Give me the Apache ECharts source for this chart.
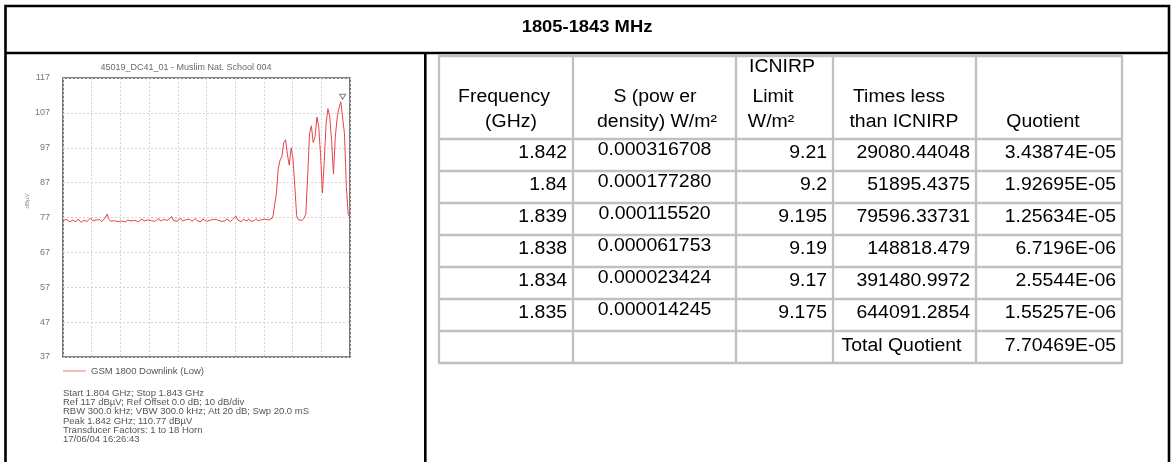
<!DOCTYPE html>
<html>
<head>
<meta charset="utf-8">
<title>1805-1843 MHz</title>
<script src="https://cdn.jsdelivr.net/npm/echarts@6.0.0/dist/echarts.min.js"></script>
<style>
  html, body { margin: 0; padding: 0; background: #fff; }
  #chart { width: 1171px; height: 462px; }
</style>
</head>
<body>
<div id="chart"></div>
<script>
/* ---------- data ---------- */
const PAGE_TITLE = '1805-1843 MHz';
const PLOT_TITLE = '45019_DC41_01 - Muslim Nat. School 004';
const SERIES_NAME = 'GSM 1800 Downlink (Low)';
const Y_UNIT = 'dBµV';

// sweep (GHz) and level axis (dBµV)
const SWEEP_START = 1.804;
const SWEEP_STOP = 1.843;
const SWEEP_STEP = 0.00025;
const X_DIV = 0.0039;
const Y_MIN = 37;
const Y_MAX = 117;
const Y_DIV = 10;

// trace levels, one per sweep point (dBµV)
const LEVELS = [
  76.2, 75.9, 76.4, 76.0, 75.7, 76.3, 76.1, 75.8, 76.5, 76.0,
  75.6, 76.2, 76.6, 75.9, 76.0, 76.8, 76.1, 75.7, 76.3, 76.0,
  76.4, 75.8, 76.2, 76.9, 78.0, 76.5, 75.9, 76.3, 76.1, 76.6,
  75.8, 76.2, 76.0, 76.4, 75.7, 76.3, 76.7, 76.0, 75.9, 76.2,
  76.5, 75.8, 76.1, 76.6, 76.0, 75.7, 76.3, 76.8, 76.1, 76.4,
  75.9, 76.2, 76.7, 76.0, 75.8, 76.4, 76.9, 76.2, 76.5, 77.3,
  76.1, 76.6, 75.9, 76.3, 76.8, 76.0, 75.7, 76.4, 76.1, 76.5,
  75.9, 76.2, 76.7, 76.0, 76.3, 75.8, 76.6, 76.1, 75.9, 76.4,
  76.2, 75.7, 76.5, 76.0, 76.3, 76.8, 75.9, 76.2, 76.0, 76.6,
  76.1, 75.8, 76.4, 76.9, 77.4, 76.3, 76.0, 75.8, 76.5, 76.2,
  76.0, 76.6, 75.9, 76.3, 76.1, 76.7, 76.0, 75.8, 76.4, 76.2,
  76.5, 76.0, 76.3, 76.8, 76.9, 77.2,
  84, 91, 93.5, 94.5, 98.5, 99.3, 95, 92, 97, 94,
  86, 77.5, 76.3, 76.8, 76.2, 76.8, 78, 89, 101, 103.3,
  98.5, 100, 105.8, 103, 95, 84, 93, 104, 108.2, 106,
  99, 89.5, 100, 105.5, 108.3, 110.2, 110.77, 101, 86, 78,
  77
];
const PEAK = [1.842, 110.77];

const INFO_LINES = [
  'Start 1.804 GHz; Stop 1.843 GHz',
  'Ref 117 dBµV; Ref Offset 0.0 dB; 10 dB/div',
  'RBW 300.0 kHz; VBW 300.0 kHz; Att 20 dB; Swp 20.0 mS',
  'Peak 1.842 GHz; 110.77 dBµV',
  'Transducer Factors: 1 to 18 Horn',
  '17/06/04 16:26:43'
];

// table
const HEADERS = [
  ['Frequency', '(GHz)'],
  ['S (pow er', 'density) W/m²'],
  ['ICNIRP', 'Limit', 'W/m²'],
  ['Times less', 'than ICNIRP'],
  ['Quotient']
];
const FREQ_GHZ = ['1.842', '1.84', '1.839', '1.838', '1.834', '1.835'];
const POWER_DENSITY = ['0.000316708', '0.000177280', '0.000115520', '0.000061753', '0.000023424', '0.000014245'];
const ICNIRP_LIMIT = ['9.21', '9.2', '9.195', '9.19', '9.17', '9.175'];
const TIMES_LESS = ['29080.44048', '51895.4375', '79596.33731', '148818.479', '391480.9972', '644091.2854'];
const QUOTIENT = ['3.43874E-05', '1.92695E-05', '1.25634E-05', '6.7196E-06', '2.5544E-06', '1.55257E-06'];
const TOTAL_LABEL = 'Total Quotient';
const TOTAL_QUOTIENT = '7.70469E-05';

/* ---------- layout ---------- */
const FONT = '"Liberation Sans", Arial, sans-serif';
const COL_X = [439, 573, 736, 833, 976, 1122];
const ROW_Y = [56, 139, 171, 203, 235, 267, 299, 331, 363];
const HEADER_X = [[504, 511], [655, 657], [782, 773, 771], [899, 904], [1043]];
const HEADER_LINE_Y = [122.5, 97, 67.5]; // from the bottom line up

function text(x, y, str, o) {
  o = o || {};
  return {
    type: 'text', x: x, y: y, silent: true,
    scaleX: o.sx == null ? 1.08 : o.sx,
    rotation: o.rot || 0,
    style: {
      x: 0, y: 0, text: str,
      fontFamily: FONT,
      fontSize: o.size || 18,
      fontWeight: o.weight || 'normal',
      fill: o.color || '#000',
      align: o.align || 'center',
      verticalAlign: o.valign || 'middle',
      lineHeight: o.lh
    }
  };
}
function line(x1, y1, x2, y2, color, w) {
  return { type: 'line', silent: true, shape: { x1, y1, x2, y2 }, style: { stroke: color, lineWidth: w } };
}

const graphics = [];
// outer frame, title row and divider
graphics.push({ type: 'rect', silent: true, shape: { x: 5.5, y: 6, width: 1163.5, height: 480 },
  style: { fill: 'none', stroke: '#000', lineWidth: 2.6 } });
graphics.push(line(5, 53, 1169, 53, '#000', 2.6));
graphics.push(line(425.3, 53, 425.3, 470, '#000', 2.6));
graphics.push(text(587, 27, PAGE_TITLE, { weight: 'bold', size: 17 }));

// table grid
ROW_Y.forEach(y => graphics.push(line(COL_X[0] - 1, y, COL_X[5] + 1, y, '#c0c0c0', 2.3)));
COL_X.forEach(x => graphics.push(line(x, ROW_Y[0], x, ROW_Y[ROW_Y.length - 1], '#c0c0c0', 2.3)));

// header
HEADERS.forEach((lines, c) => {
  const n = lines.length;
  lines.forEach((s, k) => {
    graphics.push(text(HEADER_X[c][k], HEADER_LINE_Y[n - 1 - k], s));
  });
});

// body rows
const rightCols = [FREQ_GHZ, null, ICNIRP_LIMIT, TIMES_LESS, QUOTIENT];
FREQ_GHZ.forEach((_, r) => {
  const top = ROW_Y[r + 1];
  rightCols.forEach((col, c) => {
    if (col) graphics.push(text(COL_X[c + 1] - 6, top + 14, col[r], { align: 'right' }));
  });
  graphics.push(text((COL_X[1] + COL_X[2]) / 2, top + 11, POWER_DENSITY[r]));
});
const totTop = ROW_Y[ROW_Y.length - 2];
graphics.push(text((COL_X[3] + COL_X[4]) / 2 - 3, totTop + 15, TOTAL_LABEL));
graphics.push(text(COL_X[5] - 6, totTop + 15, TOTAL_QUOTIENT, { align: 'right' }));

// spectrum plot texts
graphics.push(text(186, 68, PLOT_TITLE, { size: 9, sx: 1, color: '#6a6a6a' }));
graphics.push(text(27, 201, Y_UNIT, { size: 6, sx: 1, color: '#888', rot: Math.PI / 2 }));
graphics.push(text(63, 388.5, INFO_LINES.join('\n'),
  { size: 9.5, sx: 1, color: '#555', align: 'left', valign: 'top', lh: 9.3 }));

/* ---------- chart ---------- */
const trace = LEVELS.map((v, i) => [+(SWEEP_START + i * SWEEP_STEP).toFixed(5), v]);

const chart = echarts.init(document.getElementById('chart'), null, { renderer: 'canvas' });
chart.setOption({
  backgroundColor: '#fff',
  animation: false,
  textStyle: { fontFamily: FONT },
  grid: {
    left: 63, top: 78, width: 287, height: 279,
    show: true, borderColor: '#5a5a5a', borderWidth: 1.6, backgroundColor: '#fff'
  },
  xAxis: {
    type: 'value', min: SWEEP_START, max: SWEEP_STOP, interval: X_DIV,
    axisLine: { show: false }, axisTick: { show: false }, axisLabel: { show: false },
    splitLine: { show: true, lineStyle: { color: '#d4d4d4', width: 1, type: [2, 2] } }
  },
  yAxis: {
    type: 'value', min: Y_MIN, max: Y_MAX, interval: Y_DIV,
    axisLine: { show: false }, axisTick: { show: false },
    axisLabel: { color: '#777', fontSize: 9, margin: 13, padding: [6, 0, 0, 0] },
    splitLine: { show: true, lineStyle: { color: '#d4d4d4', width: 1, type: [2, 2] } }
  },
  legend: {
    left: 63, top: 366, padding: 0, data: [SERIES_NAME], selectedMode: false,
    icon: 'rect', itemWidth: 23, itemHeight: 1.2,
    itemStyle: { color: '#f08c8c' },
    textStyle: { fontSize: 9.5, color: '#555', fontFamily: FONT }
  },
  series: [
    {
      name: SERIES_NAME, type: 'line', data: trace, symbol: 'none',
      lineStyle: { color: '#e8444a', width: 1 }, itemStyle: { color: '#e8444a' },
      silent: true
    },
    {
      name: 'peak', type: 'scatter', data: [PEAK], symbol: 'triangle',
      symbolRotate: 180, symbolSize: [6, 5], symbolOffset: [0, -3],
      itemStyle: { color: '#fff', borderColor: '#666', borderWidth: 1 }, silent: true
    }
  ],
  graphic: { elements: graphics }
});
</script>
</body>
</html>
